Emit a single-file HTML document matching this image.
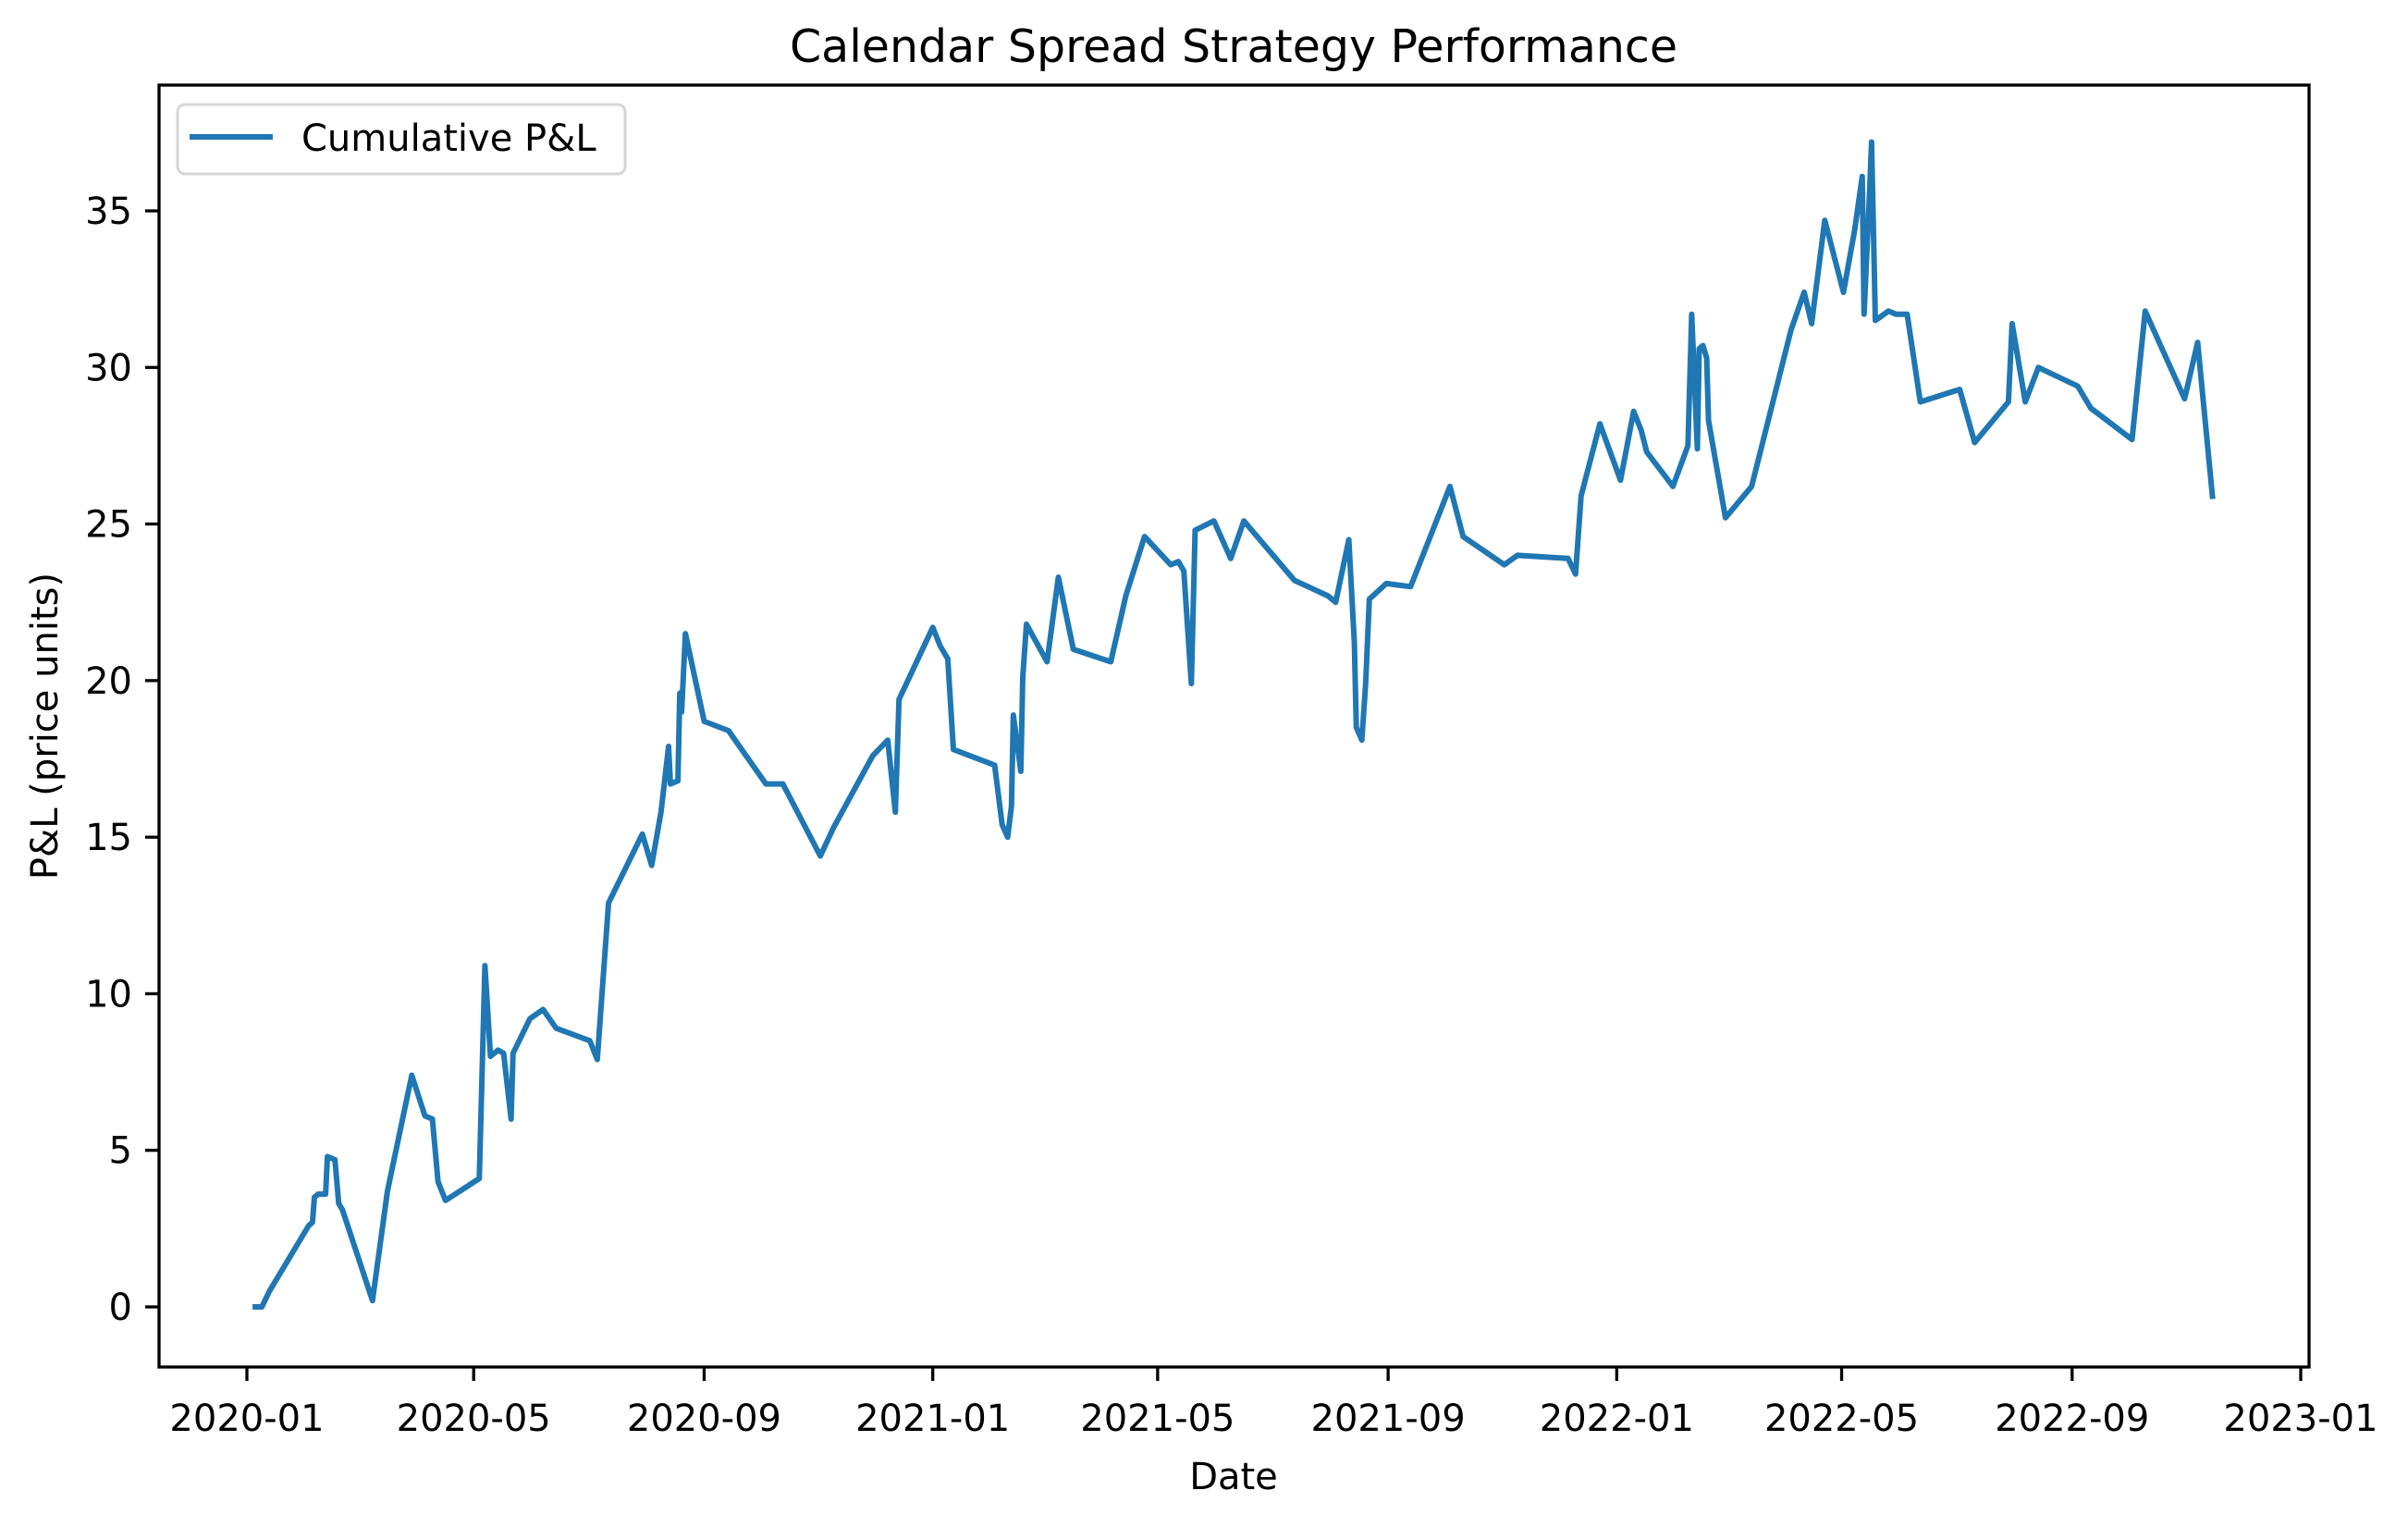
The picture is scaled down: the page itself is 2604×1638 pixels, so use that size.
<!DOCTYPE html>
<html><head><meta charset="utf-8"><style>
html,body{margin:0;padding:0;background:#fff;}
svg{display:block;font-family:"DejaVu Sans","Liberation Sans",sans-serif;}
</style></head><body>
<svg id="chart" width="2604" height="1638" viewBox="0 0 2604 1638" xmlns="http://www.w3.org/2000/svg">
<rect width="2604" height="1638" fill="#fff"/>
<text x="1334" y="67" font-size="49" text-anchor="middle">Calendar Spread Strategy Performance</text>
<text x="1334" y="1610" font-size="40" text-anchor="middle">Date</text>
<text transform="translate(62,785) rotate(-90)" font-size="40" text-anchor="middle">P&amp;L (price units)</text>
<g id="ticks"></g>
<g id="plot"></g>
<rect x="172" y="92" width="2325" height="1386" fill="none" stroke="#000" stroke-width="3.3"/>
<g>
<rect x="192" y="113" width="484" height="75" rx="8" fill="#fff" stroke="#d6d6d6" stroke-width="3"/>
<line x1="205" y1="148" x2="295" y2="148" stroke="#1f77b4" stroke-width="6"/>
<text x="326" y="163" font-size="40">Cumulative P&amp;L</text>
</g>
</svg>
<script>
const days=[3,8,12,33,35,36,38,42,43,47,49,51,67,75,88,95,99,102,106,124,127,130,134,137,141,142,151,158,165,183,187,193,211,216,221,225,226,230,231,232,234,244,257,277,286,306,313,334,342,346,348,366,370,374,377,399,403,406,408,409,413,414,416,427,433,441,461,469,479,493,497,500,504,506,516,525,532,559,577,581,588,591,592,595,597,599,608,621,642,649,671,678,705,709,712,722,733,740,744,747,761,769,771,774,775,777,779,780,789,803,824,831,835,842,852,858,862,863,866,867,869,876,880,886,893,914,922,940,942,949,956,977,984,1006,1013,1022,1034,1041,1049];
const pnl=[0,0,0.5,2.6,2.7,3.5,3.6,3.6,4.8,4.7,3.3,3.1,0.2,3.7,7.4,6.1,6.0,4.0,3.4,4.1,10.9,8.0,8.2,8.1,6.0,8.1,9.2,9.5,8.9,8.5,7.9,12.9,15.1,14.1,15.8,17.9,16.7,16.8,19.6,19.0,21.5,18.7,18.4,16.7,16.7,14.4,15.3,17.6,18.1,15.8,19.4,21.7,21.1,20.7,17.8,17.3,15.4,15.0,16.0,18.9,17.1,20.1,21.8,20.6,23.3,21.0,20.6,22.7,24.6,23.7,23.8,23.5,19.9,24.8,25.1,23.9,25.1,23.2,22.7,22.5,24.5,21.2,18.5,18.1,19.9,22.6,23.1,23.0,26.2,24.6,23.7,24.0,23.9,23.4,25.9,28.2,26.4,28.6,28.0,27.3,26.2,27.5,31.7,27.4,30.6,30.7,30.3,28.3,25.2,26.2,31.2,32.4,31.4,34.7,32.4,34.4,36.1,31.7,35.7,37.2,31.5,31.8,31.7,31.7,28.9,29.3,27.6,28.9,31.4,28.9,30.0,29.4,28.7,27.7,31.8,30.6,29.0,30.8,25.8];
const yTicks=[0,5,10,15,20,25,30,35];
const xTickLabels=["2020-01","2020-05","2020-09","2021-01","2021-05","2021-09","2022-01","2022-05","2022-09","2023-01"];
const xTickDays=[0,121,244,366,486,609,731,851,974,1096];
const NS="http://www.w3.org/2000/svg";
function X(d){return 267+d*(2221/1096);}
function Y(v){return 1413-v*(1185/35);}
const tg=document.getElementById('ticks');
yTicks.forEach(v=>{
  const l=document.createElementNS(NS,'line');
  l.setAttribute('x1',157);l.setAttribute('x2',172);l.setAttribute('y1',Y(v));l.setAttribute('y2',Y(v));l.setAttribute('stroke','#000');l.setAttribute('stroke-width',3.3);
  
  
  tg.appendChild(l);
  const t=document.createElementNS(NS,'text');
  t.setAttribute('x',143);t.setAttribute('y',Y(v)+14);t.setAttribute('font-size','40');t.setAttribute('text-anchor','end');t.textContent=v;
  
  
  tg.appendChild(t);
});
xTickDays.forEach((d,i)=>{
  const l=document.createElementNS(NS,'line');
  l.setAttribute('x1',X(d));l.setAttribute('x2',X(d));l.setAttribute('y1',1478);l.setAttribute('y2',1493);l.setAttribute('stroke','#000');l.setAttribute('stroke-width',3.3);
  
  
  tg.appendChild(l);
  const t=document.createElementNS(NS,'text');
  t.setAttribute('x',X(d));t.setAttribute('y',1547);t.setAttribute('font-size','40');t.setAttribute('text-anchor','middle');t.textContent=xTickLabels[i];
  
  
  tg.appendChild(t);
});
const p=document.createElementNS(NS,'polyline');
p.setAttribute('points',days.map((d,i)=>X(d).toFixed(1)+','+Y(pnl[i]).toFixed(1)).join(' '));
p.setAttribute('fill','none');p.setAttribute('stroke','#1f77b4');p.setAttribute('stroke-width','6');p.setAttribute('stroke-linejoin','round');


document.getElementById('plot').appendChild(p);
</script>
</body></html>
